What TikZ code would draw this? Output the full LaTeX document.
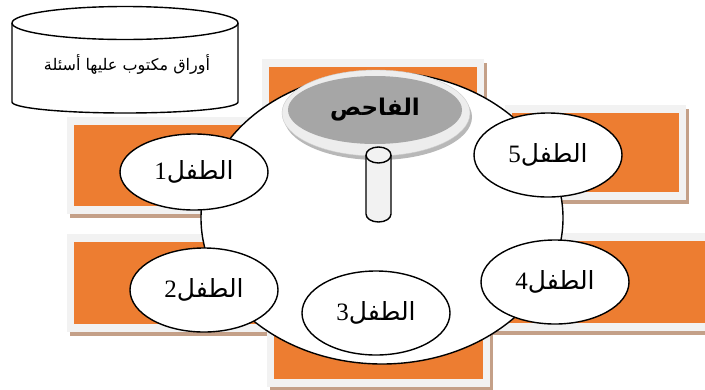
\documentclass[tikz,border=0pt]{standalone}
\usepackage{fontspec}
\usetikzlibrary{shapes.geometric}
\TeXXeTstate=1
\newfontfamily\arabicfont[Script=Arabic]{DejaVu Sans}
\newfontfamily\digitfont{Liberation Serif}
\definecolor{orangec}{HTML}{ED7D31}
\definecolor{framec}{HTML}{F2F2F2}
\definecolor{tanc}{HTML}{C4A088}
\definecolor{platein}{HTML}{A6A6A6}
\definecolor{plateout}{HTML}{EDEDED}
\definecolor{plateshadow}{HTML}{B8B8B8}
\definecolor{cylc}{HTML}{F2F2F2}
\newcommand\orangebox[4]{%
  \fill[tanc] (#1+3,#2+4) rectangle (#3+3,#4+4);
  \fill[framec] (#1,#2) rectangle (#3,#4);
  \fill[orangec] (#1+7,#2+8) rectangle (#3-7,#4-8);}
\tikzset{
  child/.style={ellipse, draw=black, line width=1.4pt, fill=white, minimum width=148pt, minimum height=84pt, inner sep=0pt, font=\arabicfont\fontsize{25}{30}\selectfont},
  bigplate/.style={draw=black, line width=1.4pt, fill=white},
  cyl/.style={draw=black, line width=1.4pt, fill=cylc},
}
\begin{document}
\begin{tikzpicture}[x=1pt,y=-1pt]
\useasboundingbox (0,0) rectangle (705,389);
% orange panels
\orangebox{262}{59}{484}{160}
\orangebox{505}{105}{686}{200}
\orangebox{67}{117}{300}{214}
\orangebox{67}{234}{300}{332}
\orangebox{267}{250}{490}{387}
\orangebox{470}{233}{712}{331}
% big round table
\draw[bigplate] (382,218) ellipse [x radius=181pt, y radius=146pt];
% examiner plate
\fill[plateshadow] (378,117) ellipse [x radius=94pt, y radius=43pt];
\fill[plateout] (376,113) ellipse [x radius=94pt, y radius=43pt];
\draw[white!80!black, line width=0.4pt] (376,113) ellipse [x radius=94pt, y radius=43pt];
\node[ellipse, fill=platein, minimum width=174pt, minimum height=68pt, inner sep=0pt,
  font=\arabicfont\bfseries\fontsize{23}{27}\selectfont] (examiner) at (375,110) {\beginR الفاحص\endR};
% stand
\draw[cyl] (366,155) -- (366,214) arc[start angle=180, end angle=360, x radius=12.5pt, y radius=8pt] -- (391,155);
\draw[cyl] (378.5,155) ellipse [x radius=12.5pt, y radius=8pt];
% children
\node[child, minimum height=76pt] (c1) at (194,172) {\beginR الطفل{\digitfont 1}\endR};
\node[child] (c5) at (548,155) {\beginR الطفل{\digitfont 5}\endR};
\node[child] (c2) at (204,290) {\beginR الطفل{\digitfont 2}\endR};
\node[child] (c3) at (376,313) {\beginR الطفل{\digitfont 3}\endR};
\node[child] (c4) at (555,282) {\beginR الطفل{\digitfont 4}\endR};
% papers cylinder
\draw[cyl, fill=white] (12,23) -- (12,102) arc[start angle=180, end angle=360, x radius=113pt, y radius=11pt] -- (238,23);
\draw[cyl, fill=white] (125,23) ellipse [x radius=113pt, y radius=16.5pt];
\node[font=\arabicfont\fontsize{16}{19}\selectfont] (papers) at (127,64) {\beginR أوراق مكتوب عليها أسئلة\endR};
\end{tikzpicture}
\end{document}
